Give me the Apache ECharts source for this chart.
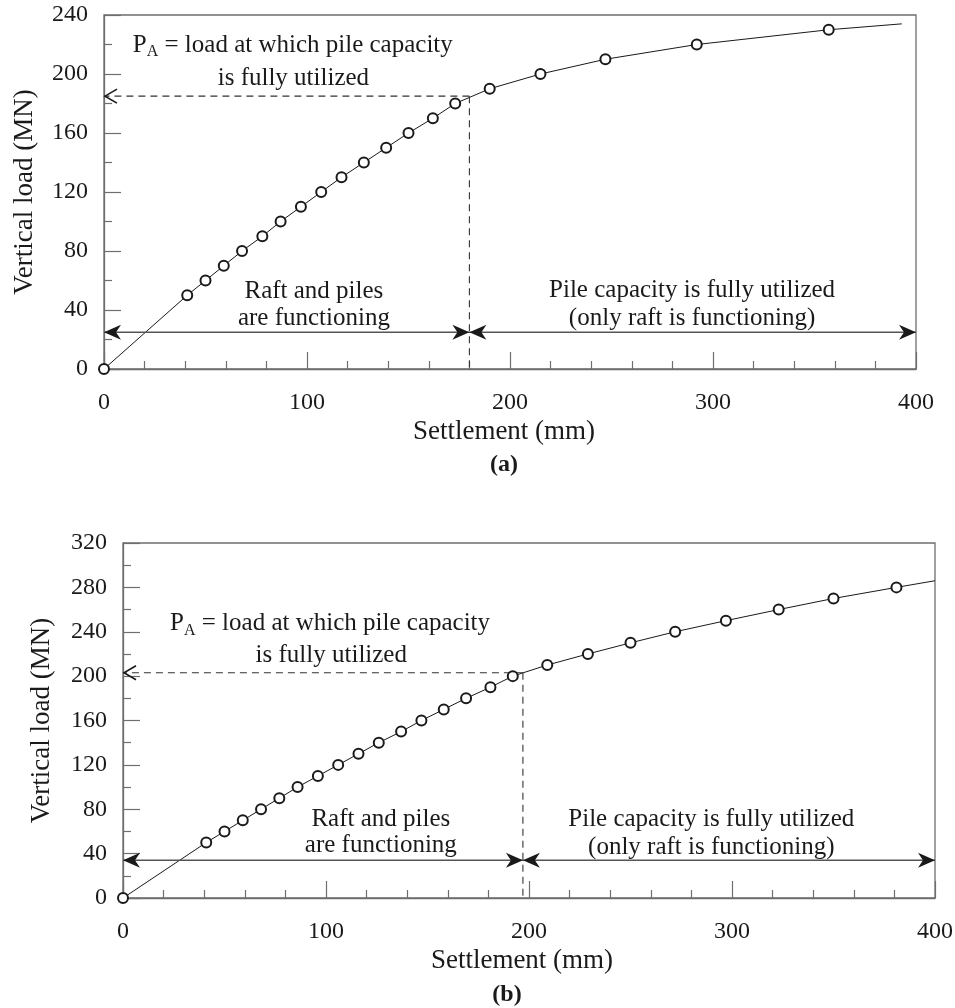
<!DOCTYPE html>
<html>
<head>
<meta charset="utf-8">
<title>Load–settlement curves of piled rafts</title>
<script src="https://cdn.jsdelivr.net/npm/echarts@6/dist/echarts.min.js"></script>
<style>
  html, body { margin: 0; padding: 0; background: #fff; }
  #chart { width: 955px; height: 1008px; }
</style>
</head>
<body>
<div id="chart"></div>
<script>
// ---- Panel (a) ----
const settlementA = [0, 41, 50, 59, 68, 78, 87, 97, 107, 117, 128, 139, 150, 162, 173, 190, 215, 247, 292, 357];
const loadA       = [0, 50, 60, 70, 80, 90, 100, 110, 120, 130, 140, 150, 160, 170, 180, 190, 200, 210, 220, 230];
const curveEndA   = [393, 234];          // fitted curve continues past the last measured point
const pileLimitA  = [180, 185];          // [settlement, load] where pile capacity is fully used
const zoneArrowLoadA = 25;               // load level of the two zone arrows
const yTicksA = { max: 240, interval: 40 };

// ---- Panel (b) ----
const settlementB = [0, 41, 50, 59, 68, 77, 86, 96, 106, 116, 126, 137, 147, 158, 169, 181, 192, 209, 229, 250, 272, 297, 323, 350, 381];
const loadB       = [0, 50, 60, 70, 80, 90, 100, 110, 120, 130, 140, 150, 160, 170, 180, 190, 200, 210, 220, 230, 240, 250, 260, 270, 280];
const curveEndB   = [400, 286];
const pileLimitB  = [197, 203];
const zoneArrowLoadB = 34;
const yTicksB = { max: 320, interval: 40 };

const xTicks = { max: 400, interval: 100 };

// annotation texts: [text, settlement, load] anchors in data units
const notesA = [
  ['PA', 93, 219.7],
  ['is fully utilized', 93.3, 197],
  ['Raft and piles', 103.4, 52.6],
  ['are functioning', 103.4, 34.1],
  ['Pile capacity is fully utilized', 289.7, 53.2],
  ['(only raft is functioning)', 289.7, 34.1]
];
const notesB = [
  ['PA', 102, 247.6],
  ['is fully utilized', 102.6, 218.8],
  ['Raft and piles', 127, 71],
  ['are functioning', 127, 47],
  ['Pile capacity is fully utilized', 289.8, 71.2],
  ['(only raft is functioning)', 289.8, 46]
];

const FONT = '"Liberation Serif", "Times New Roman", Times, serif';
const AXIS = '#6e6e6e';
const INK = '#1a1a1a';

function zip(xs, ys) { return xs.map((x, i) => [x, ys[i]]); }

function xAxisFor(gridIndex, namePadRight) {
  return {
    type: 'value', gridIndex, min: 0, max: xTicks.max, interval: xTicks.interval,
    name: 'Settlement (mm)', nameLocation: 'middle', nameGap: 49,
    nameTextStyle: { fontFamily: FONT, fontSize: 27, color: INK, padding: [0, namePadRight, 0, 0] },
    axisLine: { lineStyle: { color: AXIS, width: 1.3 } },
    axisTick: { inside: true, length: 17, lineStyle: { color: AXIS, width: 1.2 } },
    minorTick: { show: true, splitNumber: 5, length: 8, lineStyle: { color: AXIS, width: 1.2 } },
    axisLabel: { fontFamily: FONT, fontSize: 24, color: INK, margin: 22 },
    splitLine: { show: false }, minorSplitLine: { show: false }
  };
}

function yAxisFor(gridIndex, ticks, nameGap) {
  return {
    type: 'value', gridIndex, min: 0, max: ticks.max, interval: ticks.interval,
    name: 'Vertical load (MN)', nameLocation: 'middle', nameGap: nameGap, nameRotate: 90,
    nameTextStyle: { fontFamily: FONT, fontSize: 27, color: INK },
    axisLine: { lineStyle: { color: AXIS, width: 1.3 } },
    axisTick: { inside: true, length: 17, lineStyle: { color: AXIS, width: 1.2 } },
    minorTick: { show: true, splitNumber: 2, length: 8, lineStyle: { color: AXIS, width: 1.2 } },
    axisLabel: { fontFamily: FONT, fontSize: 24, color: INK, margin: 16 },
    splitLine: { show: false }, minorSplitLine: { show: false }
  };
}

// filled barbed arrowhead, tip at (x, y), dir = +1 points right, -1 points left
function barb(x, y, dir) {
  const L = 17, W = 7.5, N = 12;
  return {
    type: 'polygon',
    shape: { points: [[x, y], [x - dir * L, y - W], [x - dir * N, y], [x - dir * L, y + W]] },
    style: { fill: INK }
  };
}

function annotationRenderer(limit, arrowLoad, notes) {
  return function (params, api) {
    const pLim = api.coord(limit);
    const pLeft = api.coord([0, limit[1]]);
    const pBot = api.coord([limit[0], 0]);
    const aL = api.coord([0, arrowLoad]);
    const aM = api.coord([limit[0], arrowLoad]);
    const aR = api.coord([xTicks.max, arrowLoad]);
    const dash = { stroke: '#333', lineWidth: 1.1, lineDash: [7, 5], fill: null };
    const children = [
      { type: 'line', shape: { x1: pLim[0], y1: pLim[1], x2: pLeft[0], y2: pLeft[1] }, style: dash },
      { type: 'line', shape: { x1: pLim[0], y1: pLim[1], x2: pBot[0], y2: pBot[1] }, style: dash },
      { type: 'polyline',
        shape: { points: [[pLeft[0] + 13, pLeft[1] - 7], [pLeft[0] + 1, pLeft[1]], [pLeft[0] + 13, pLeft[1] + 7]] },
        style: { stroke: INK, lineWidth: 1.6, fill: null } },
      { type: 'line', shape: { x1: aL[0], y1: aL[1], x2: aR[0], y2: aR[1] }, style: { stroke: '#555', lineWidth: 1.5 } },
      barb(aL[0], aL[1], -1),
      barb(aM[0], aM[1], 1),
      barb(aM[0], aM[1], -1),
      barb(aR[0], aR[1], 1)
    ];
    notes.forEach(function (n) {
      const p = api.coord([n[1], n[2]]);
      const isPA = n[0] === 'PA';
      children.push({
        type: 'text', x: p[0], y: p[1],
        style: isPA ? {
          text: '{p|P}{s|A}{p| = load at which pile capacity}',
          align: 'center', verticalAlign: 'middle',
          rich: {
            p: { fontFamily: FONT, fontSize: 25, lineHeight: 30, fill: INK },
            s: { fontFamily: FONT, fontSize: 16, lineHeight: 14, fill: INK, verticalAlign: 'bottom' }
          }
        } : {
          text: n[0], fontFamily: FONT, fontSize: 25, fill: INK,
          align: 'center', verticalAlign: 'middle'
        }
      });
    });
    return { type: 'group', children: children };
  };
}

function curveSeries(idx, xs, ys, end) {
  return {
    type: 'line', xAxisIndex: idx, yAxisIndex: idx,
    data: zip(xs, ys).concat([end]),
    showSymbol: false, smooth: false,
    lineStyle: { color: INK, width: 1 }, silent: true, z: 2
  };
}

function markerSeries(idx, xs, ys) {
  return {
    type: 'scatter', xAxisIndex: idx, yAxisIndex: idx,
    data: zip(xs, ys), symbol: 'emptyCircle', symbolSize: 10, clip: false,
    itemStyle: { color: INK, borderColor: INK, borderWidth: 1.3, opacity: 1 },
    silent: true, z: 4
  };
}

const chart = echarts.init(document.getElementById('chart'), null, { renderer: 'canvas' });

chart.setOption({
  backgroundColor: '#fff',
  animation: false,
  grid: [
    { left: 104, top: 15, width: 812, height: 354, show: true, borderColor: AXIS, borderWidth: 1.3, outerBoundsMode: 'none' },
    { left: 123, top: 543, width: 812, height: 355, show: true, borderColor: AXIS, borderWidth: 1.3, outerBoundsMode: 'none' }
  ],
  xAxis: [xAxisFor(0, 12), xAxisFor(1, 14)],
  yAxis: [yAxisFor(0, yTicksA, 66), yAxisFor(1, yTicksB, 68)],
  graphic: [
    { type: 'text', x: 504, y: 465, style: { text: '(a)', fontFamily: FONT, fontSize: 24, fontWeight: 'bold', fill: INK, align: 'center', verticalAlign: 'middle' } },
    { type: 'text', x: 507, y: 995, style: { text: '(b)', fontFamily: FONT, fontSize: 24, fontWeight: 'bold', fill: INK, align: 'center', verticalAlign: 'middle' } }
  ],
  series: [
    curveSeries(0, settlementA, loadA, curveEndA),
    markerSeries(0, settlementA, loadA),
    { type: 'custom', xAxisIndex: 0, yAxisIndex: 0, data: [[0, 0]], silent: true, z: 3,
      renderItem: annotationRenderer(pileLimitA, zoneArrowLoadA, notesA) },
    curveSeries(1, settlementB, loadB, curveEndB),
    markerSeries(1, settlementB, loadB),
    { type: 'custom', xAxisIndex: 1, yAxisIndex: 1, data: [[0, 0]], silent: true, z: 3,
      renderItem: annotationRenderer(pileLimitB, zoneArrowLoadB, notesB) }
  ]
});
</script>
</body>
</html>
